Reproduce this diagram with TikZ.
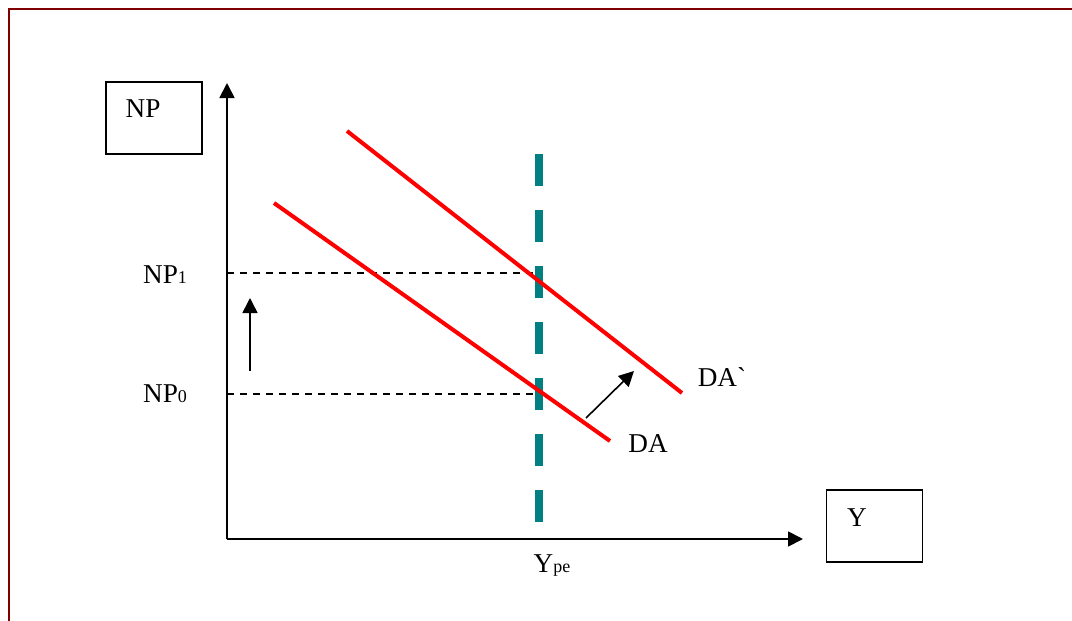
\documentclass[tikz,border=0pt]{standalone}
\usepackage{fontspec}
\setmainfont{Liberation Serif}
\newfontfamily\gravefont{Liberation Serif}[Ligatures=TeXOff]
\usetikzlibrary{arrows.meta}
\definecolor{framered}{RGB}{128,0,0}
\definecolor{ypeteal}{RGB}{0,128,128}
\newcommand{\lblfont}{\fontsize{13.6}{16}\selectfont}
\newcommand{\subfont}{\fontsize{9}{11}\selectfont}
\tikzset{
    ad diagram/.style = {x=0.5pt, y=-0.5pt,
                         >={Triangle[length=7.5pt, width=7.5pt]}},
    frame/.style      = {draw=framered, line width=1pt},
    axis/.style       = {->, line width=0.9pt},
    guide/.style      = {line width=0.6pt, dash pattern=on 3.5pt off 3pt},
    demand/.style     = {draw=red, line width=2pt},
    potential/.style  = {draw=ypeteal, line width=4pt,
                         dash pattern=on 16pt off 12pt},
    move arrow/.style = {->, line width=0.8pt},
    labelbox/.style   = {draw, line width=0.8pt, inner sep=0pt,
                         minimum width=48pt, minimum height=36pt},
    lbl/.style        = {font=\lblfont, inner sep=0pt}
}

\begin{document}
\begin{tikzpicture}[ad diagram]
\useasboundingbox (0,0) rectangle (1072,621);

% ================= Frame =================
\coordinate (fTL) at (9,9);
\coordinate (fTR) at (1072,9);
\coordinate (fBL) at (9,621);
\draw[frame] (fBL) -- (fTL) -- (fTR);

% ================= Axes =================
\coordinate (origin) at (227,539);
\coordinate (ytip)   at (227,83);
\coordinate (xtip)   at (803,539);
\draw[axis] (origin) -- (ytip);
\draw[axis] (origin) -- (xtip);

\node[labelbox] (npbox) at (154,118) {};
\node[lbl] (nplbl) at (143,109) {NP};
\node[labelbox] (ybox) at (874.5,526) {};
\node[lbl] (ylbl) at (857,518) {Y};

% ================= Price levels =================
\node[lbl] (np1) at (165,275) {NP{\subfont 1}};
\node[lbl] (np0) at (165,394) {NP{\subfont 0}};
\coordinate (np1axis) at (227,273);
\coordinate (np0axis) at (227,394);
\coordinate (np1cut)  at (538,273);
\coordinate (np0cut)  at (538,394);
\draw[guide] (np1axis) -- (np1cut);
\draw[guide] (np0axis) -- (np0cut);

\coordinate (riseA) at (250,371);
\coordinate (riseB) at (250,298);
\draw[move arrow] (riseA) -- (riseB);

% ================= Potential output =================
\coordinate (ypeTop) at (539,154);
\coordinate (ypeBot) at (539,522);
\draw[potential] (ypeTop) -- (ypeBot);
\node[lbl] (ype) at (552,566) {Y{\subfont pe}};

% ================= Demand curves =================
\coordinate (daA) at (274,203);
\coordinate (daB) at (610,441);
\coordinate (dapA) at (347,131);
\coordinate (dapB) at (682,393);
\draw[demand] (daA) -- (daB);
\draw[demand] (dapA) -- (dapB);
\node[lbl] (da)  at (648,444) {DA};
\node[lbl] (dap) at (722,377) {DA{\gravefont\char96}};

\coordinate (moveA) at (586,418);
\coordinate (moveB) at (634,371);
\draw[move arrow] (moveA) -- (moveB);

\end{tikzpicture}
\end{document}
